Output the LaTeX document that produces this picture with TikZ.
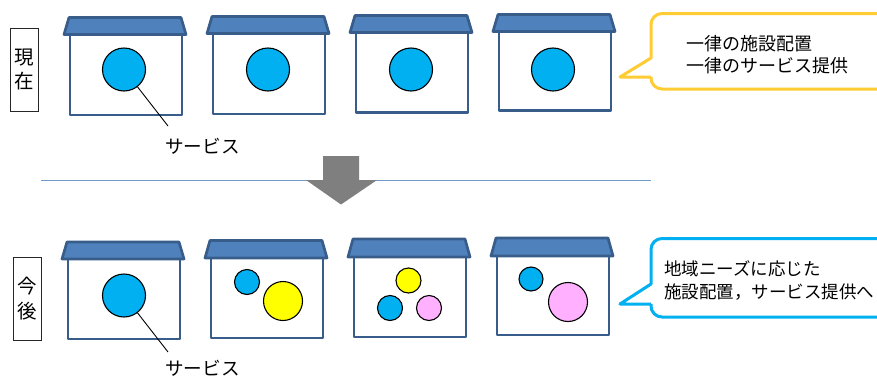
\documentclass[tikz,border=0pt]{standalone}
\usepackage{fontspec}
\setmainfont{Noto Sans CJK JP}
\definecolor{houseline}{HTML}{385D8A}
\definecolor{roof}{HTML}{4F81BD}
\definecolor{svcblue}{HTML}{00B0F0}
\definecolor{svcyellow}{HTML}{FFFF00}
\definecolor{svcpink}{HTML}{FFB0FF}
\definecolor{calloutyellow}{HTML}{FFCC33}
\definecolor{rulecolor}{HTML}{6F9BCB}
\definecolor{arrowgray}{HTML}{7F7F7F}
\tikzset{
  housebody/.style={draw=houseline,line width=2.7pt,fill=white,line join=round},
  houseroof/.style={draw=houseline,line width=2.7pt,fill=roof,line join=round},
  svc/.style={circle,draw=black,line width=1.1pt,inner sep=0pt,minimum size=#1},
  leader/.style={draw=black,line width=0.9pt},
  labeltext/.style={inner sep=0pt,font=\fontsize{18.6}{22}\selectfont,anchor=west},
  bubbletext/.style={inner sep=0pt,font=\fontsize{18}{22}\selectfont,anchor=west},
  bubbletextb/.style={inner sep=0pt,font=\fontsize{17.5}{22}\selectfont,anchor=west},
  tagbox/.style={draw=black!85,line width=1pt,fill=white,minimum width=28pt,minimum height=83pt,inner sep=0pt,align=center,font=\fontsize{19.5}{24.5}\selectfont},
  callout/.style={line width=3pt,fill=white,line join=round},
}
% roof-left x, roof-top y, roof-bottom y, body-bottom y
\newcommand{\mkhouse}[4]{%
  \path[housebody] (#1+6,#3) rectangle (#1+118,#4);
  \path[houseroof] (#1,#3) -- (#1+5,#2) -- (#1+117,#2) -- (#1+122,#3) -- cycle;
}
\begin{document}
\begin{tikzpicture}[x=1pt,y=-1pt]
\useasboundingbox (0,0) rectangle (877,378);
\clip (0,0) rectangle (877,378);
\fill[white] (0,0) rectangle (877,378);

% upper row
\mkhouse{64}{17.5}{34.5}{115}
\mkhouse{207}{16.5}{33.5}{114}
\mkhouse{350}{15.5}{32.5}{112.5}
\mkhouse{493}{14.5}{31.5}{110.5}
\node[svc=43pt,fill=svcblue] (a1) at (124,69.5) {};
\node[svc=43pt,fill=svcblue] (a2) at (268,69.5) {};
\node[svc=43pt,fill=svcblue] (a3) at (411,69.5) {};
\node[svc=43pt,fill=svcblue] (a4) at (553,69.5) {};
\coordinate (la) at (168,126);
\draw[leader] (a1) -- (la);
\node[labeltext] (ta) at (165,146) {サービス};
\node[tagbox] (now) at (24.5,69.5) {現\\在};

% callout upper
\draw[callout,draw=calloutyellow] (651,77) -- (620,77) -- (651,58) [rounded corners=11pt] -- (651,13.5) -- (890,13.5) -- (890,89) -- (651,89) [sharp corners] -- (651,77);
\node[bubbletext] (c1a) at (686,43.5) {一律の施設配置};
\node[bubbletext] (c1b) at (686,66) {一律のサービス提供};

% divider and arrow
\coordinate (r1) at (41,180);
\coordinate (r2) at (651,180);
\draw[rulecolor,line width=1pt] (r1) -- (r2);
\fill[arrowgray] (323,156) -- (359,156) -- (359,180) -- (377,180) -- (341,204.5) -- (306,180) -- (323,180) -- cycle;

% lower row
\mkhouse{62}{242}{259}{339}
\mkhouse{205}{240.5}{258}{338}
\mkhouse{348}{239}{257}{337}
\mkhouse{491}{238}{256}{335}
\node[svc=43pt,fill=svcblue] (b1) at (124,295.5) {};
\node[svc=25pt,fill=svcblue] (b2) at (247,282) {};
\node[svc=39pt,fill=svcyellow] (b3) at (283,301) {};
\node[svc=25pt,fill=svcyellow] (b4) at (408.5,280.5) {};
\node[svc=25pt,fill=svcblue] (b5) at (390,308) {};
\node[svc=25pt,fill=svcpink] (b6) at (429,308) {};
\node[svc=24pt,fill=svcblue] (b7) at (531,279) {};
\node[svc=39pt,fill=svcpink] (b8) at (568,302) {};
\coordinate (lb) at (168,352);
\draw[leader] (b1) -- (lb);
\node[labeltext] (tb) at (165,368.5) {サービス};
\node[tagbox] (later) at (27.5,298.5) {今\\後};

% callout lower
\draw[callout,draw=svcblue] (651,304) -- (620,304) -- (651,284) [rounded corners=11pt] -- (651,238.5) -- (890,238.5) -- (890,317) -- (651,317) [sharp corners] -- (651,304);
\node[bubbletextb] (c2a) at (664,269) {地域ニーズに応じた};
\node[bubbletextb] (c2b) at (664,292.5) {施設配置，サービス提供へ};
\end{tikzpicture}
\end{document}
